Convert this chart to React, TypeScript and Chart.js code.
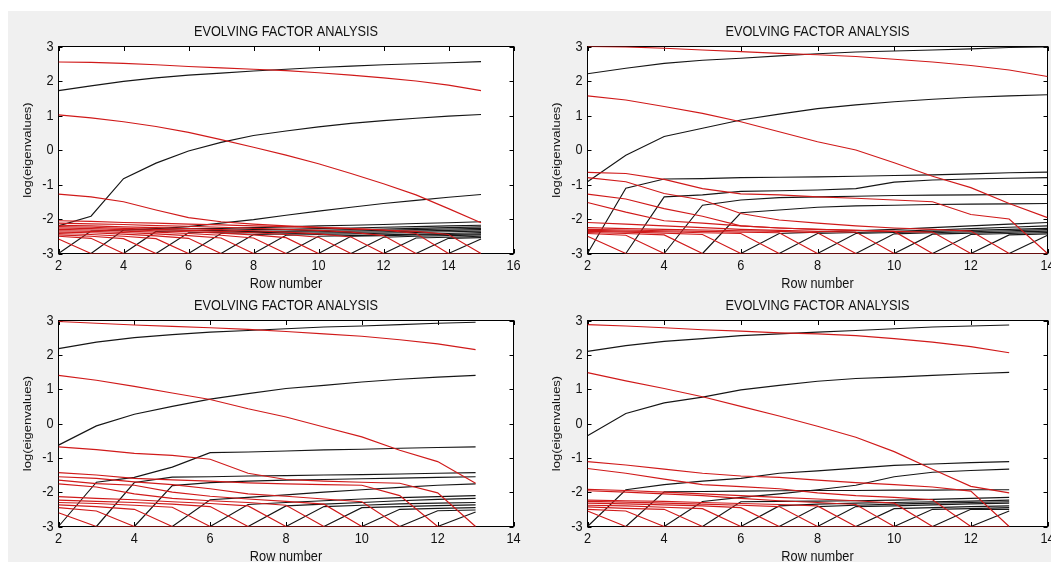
import React, { useEffect, useRef } from "react";
import { Chart, registerables } from "chart.js";

Chart.register(...registerables);

type Series = (number | null)[];

// ---------- text ----------
const TITLE = "EVOLVING FACTOR ANALYSIS";
const X_LABEL = "Row number";
const Y_LABEL = "log(eigenvalues)";

// ---------- tick labels ----------
const yTicks = [-3, -2, -1, 0, 1, 2, 3];
const xTicksWide = [2, 4, 6, 8, 10, 12, 14, 16];
const xTicksNarrow = [2, 4, 6, 8, 10, 12, 14];

// ---------- panel 1 (top-left), rows 2..15 ----------
const rows1 = [2, 3, 4, 5, 6, 7, 8, 9, 10, 11, 12, 13, 14, 15];
const forward1: Series[] = [
  [1.72, 1.86, 1.99, 2.09, 2.17, 2.23, 2.29, 2.34, 2.39, 2.43, 2.47, 2.5, 2.53, 2.56],
  [-2.2, -1.92, -0.83, -0.38, -0.03, 0.22, 0.42, 0.55, 0.67, 0.77, 0.85, 0.92, 0.98, 1.03],
  [-3, -2.35, -2.32, -2.28, -2.22, -2.12, -2.02, -1.89, -1.77, -1.66, -1.55, -1.46, -1.37, -1.29],
  [null, -3, -2.32, -2.3, -2.28, -2.27, -2.25, -2.23, -2.2, -2.18, -2.16, -2.13, -2.11, -2.08],
  [null, null, -3, -2.36, -2.34, -2.33, -2.31, -2.3, -2.28, -2.26, -2.24, -2.22, -2.2, -2.18],
  [null, null, null, -3, -2.4, -2.38, -2.36, -2.35, -2.33, -2.31, -2.29, -2.27, -2.25, -2.23],
  [null, null, null, null, -3, -2.42, -2.4, -2.38, -2.37, -2.35, -2.33, -2.31, -2.29, -2.27],
  [null, null, null, null, null, -3, -2.45, -2.43, -2.41, -2.39, -2.37, -2.35, -2.33, -2.31],
  [null, null, null, null, null, null, -3, -2.47, -2.45, -2.43, -2.41, -2.39, -2.37, -2.35],
  [null, null, null, null, null, null, null, -3, -2.5, -2.48, -2.46, -2.44, -2.42, -2.39],
  [null, null, null, null, null, null, null, null, -3, -2.5, -2.48, -2.46, -2.45, -2.43],
  [null, null, null, null, null, null, null, null, null, -3, -2.53, -2.5, -2.48, -2.46],
  [null, null, null, null, null, null, null, null, null, null, -3, -2.55, -2.53, -2.5],
  [null, null, null, null, null, null, null, null, null, null, null, -3, -2.56, -2.54],
  [null, null, null, null, null, null, null, null, null, null, null, null, -3, -2.58],
];
const backward1: Series[] = [
  [2.55, 2.54, 2.51, 2.47, 2.42, 2.38, 2.34, 2.3, 2.24, 2.17, 2.09, 2.0, 1.88, 1.72],
  [1.02, 0.93, 0.82, 0.68, 0.51, 0.3, 0.08, -0.15, -0.4, -0.68, -0.98, -1.3, -1.7, -2.11],
  [-1.28, -1.36, -1.5, -1.74, -1.96, -2.08, -2.15, -2.2, -2.24, -2.28, -2.32, -2.36, -2.45, -3],
  [-2.05, -2.07, -2.1, -2.12, -2.15, -2.17, -2.2, -2.22, -2.25, -2.28, -2.32, -2.42, -3],
  [-2.12, -2.14, -2.16, -2.19, -2.21, -2.24, -2.27, -2.3, -2.33, -2.38, -2.48, -3],
  [-2.18, -2.2, -2.23, -2.25, -2.28, -2.31, -2.34, -2.38, -2.43, -2.52, -3],
  [-2.22, -2.24, -2.27, -2.3, -2.33, -2.36, -2.4, -2.45, -2.53, -3],
  [-2.26, -2.28, -2.31, -2.34, -2.37, -2.41, -2.46, -2.54, -3],
  [-2.3, -2.32, -2.35, -2.38, -2.42, -2.47, -2.55, -3],
  [-2.34, -2.36, -2.39, -2.43, -2.48, -2.55, -3],
  [-2.38, -2.4, -2.44, -2.49, -2.56, -3],
  [-2.42, -2.45, -2.5, -2.57, -3],
  [-2.46, -2.5, -2.57, -3],
  [-2.5, -2.56, -3],
  [-2.58, -3, -3, -3, -3, -3, -3, -3, -3, -3, -3, -3, -3, -3],
];

// ---------- panel 2 (top-right), rows 2..14 ----------
const rows2 = [2, 3, 4, 5, 6, 7, 8, 9, 10, 11, 12, 13, 14];
const forward2: Series[] = [
  [2.21, 2.37, 2.51, 2.6, 2.66, 2.73, 2.79, 2.84, 2.87, 2.9, 2.93, 2.97, 2.99],
  [-0.92, -0.15, 0.39, 0.63, 0.87, 1.04, 1.2, 1.31, 1.4, 1.47, 1.53, 1.57, 1.6],
  [-3, -1.11, -0.84, -0.83, -0.8, -0.79, -0.78, -0.76, -0.74, -0.72, -0.69, -0.66, -0.64],
  [null, -3, -1.36, -1.3, -1.2, -1.18, -1.16, -1.12, -0.93, -0.87, -0.84, -0.82, -0.8],
  [null, null, -3, -1.6, -1.45, -1.38, -1.36, -1.34, -1.32, -1.31, -1.3, -1.29, -1.29],
  [null, null, null, -3, -1.82, -1.74, -1.66, -1.62, -1.6, -1.58, -1.57, -1.56, -1.55],
  [null, null, null, null, -3, -2.42, -2.38, -2.34, -2.3, -2.25, -2.2, -2.15, -2.1],
  [null, null, null, null, null, -3, -2.42, -2.39, -2.36, -2.32, -2.28, -2.24, -2.2],
  [null, null, null, null, null, null, -3, -2.42, -2.39, -2.36, -2.33, -2.3, -2.27],
  [null, null, null, null, null, null, null, -3, -2.43, -2.4, -2.37, -2.34, -2.31],
  [null, null, null, null, null, null, null, null, -3, -2.44, -2.41, -2.38, -2.35],
  [null, null, null, null, null, null, null, null, null, -3, -2.45, -2.42, -2.39],
  [null, null, null, null, null, null, null, null, null, null, -3, -2.46, -2.43],
  [null, null, null, null, null, null, null, null, null, null, null, -3, -2.47],
];
const backward2: Series[] = [
  [3.0, 2.99, 2.95, 2.9, 2.85, 2.8, 2.76, 2.71, 2.63, 2.55, 2.45, 2.32, 2.13],
  [1.57, 1.45, 1.26, 1.06, 0.82, 0.53, 0.24, 0.0, -0.37, -0.76, -1.09, -1.55, -1.96],
  [-0.65, -0.68, -0.85, -1.12, -1.27, -1.3, -1.36, -1.4, -1.45, -1.5, -1.87, -2.0, -3],
  [-0.8, -0.92, -1.26, -1.45, -1.84, -2.03, -2.12, -2.2, -2.26, -2.3, -2.35, -3],
  [-1.28, -1.42, -1.7, -1.92, -2.2, -2.26, -2.3, -2.33, -2.36, -2.38, -3],
  [-1.52, -1.8, -2.05, -2.12, -2.2, -2.26, -2.3, -2.33, -2.36, -3],
  [-2.1, -2.15, -2.2, -2.25, -2.3, -2.33, -2.36, -2.38, -3],
  [-2.25, -2.28, -2.3, -2.32, -2.34, -2.36, -2.4, -3],
  [-2.3, -2.32, -2.34, -2.36, -2.38, -2.4, -3],
  [-2.33, -2.35, -2.37, -2.4, -2.42, -3],
  [-2.36, -2.38, -2.41, -2.45, -3],
  [-2.39, -2.42, -2.46, -3],
  [-2.42, -2.47, -3],
  [-2.5, -3, -3, -3, -3, -3, -3, -3, -3, -3, -3, -3, -3],
];

// ---------- panel 3 (bottom-left), rows 2..13 ----------
const rows3 = [2, 3, 4, 5, 6, 7, 8, 9, 10, 11, 12, 13];
const forward3: Series[] = [
  [2.18, 2.37, 2.5, 2.59, 2.66, 2.71, 2.76, 2.81, 2.84, 2.88, 2.92, 2.95],
  [-0.63, -0.07, 0.27, 0.5, 0.71, 0.87, 1.02, 1.11, 1.21, 1.29, 1.35, 1.4],
  [-3, -1.71, -1.57, -1.27, -0.85, -0.83, -0.8, -0.77, -0.75, -0.72, -0.7, -0.68],
  [null, -3, -1.72, -1.56, -1.55, -1.53, -1.52, -1.5, -1.49, -1.47, -1.45, -1.43],
  [null, null, -3, -1.81, -1.72, -1.68, -1.65, -1.63, -1.61, -1.59, -1.57, -1.55],
  [null, null, null, -3, -2.22, -2.15, -2.08, -2.0, -1.93, -1.86, -1.8, -1.76],
  [null, null, null, null, -3, -2.36, -2.3, -2.25, -2.2, -2.16, -2.13, -2.1],
  [null, null, null, null, null, -3, -2.4, -2.35, -2.3, -2.25, -2.21, -2.18],
  [null, null, null, null, null, null, -3, -2.42, -2.38, -2.34, -2.32, -2.3],
  [null, null, null, null, null, null, null, -3, -2.45, -2.42, -2.39, -2.37],
  [null, null, null, null, null, null, null, null, -3, -2.5, -2.47, -2.45],
  [null, null, null, null, null, null, null, null, null, -3, -2.54, -2.52],
  [null, null, null, null, null, null, null, null, null, null, -3, -2.58],
];
const backward3: Series[] = [
  [2.97, 2.92, 2.87, 2.83, 2.79, 2.74, 2.68, 2.61, 2.54, 2.44, 2.32, 2.15],
  [1.4, 1.26, 1.08, 0.89, 0.7, 0.43, 0.19, -0.1, -0.39, -0.78, -1.11, -1.74],
  [-0.68, -0.76, -0.87, -0.93, -1.04, -1.45, -1.63, -1.68, -1.71, -1.74, -2.02, -3],
  [-1.43, -1.5, -1.6, -1.64, -1.68, -1.73, -1.76, -1.78, -1.8, -2.1, -3],
  [-1.55, -1.6, -1.7, -1.78, -1.9, -2.05, -2.12, -2.2, -2.28, -3],
  [-1.65, -1.75, -1.8, -2.0, -2.12, -2.2, -2.27, -2.35, -3],
  [-1.76, -1.85, -2.05, -2.18, -2.25, -2.3, -2.38, -3],
  [-2.13, -2.18, -2.22, -2.28, -2.33, -2.4, -3],
  [-2.23, -2.27, -2.3, -2.35, -2.42, -3],
  [-2.3, -2.33, -2.38, -2.44, -3],
  [-2.37, -2.42, -2.5, -3],
  [-2.45, -2.55, -3],
  [-2.6, -3, -3, -3, -3, -3, -3, -3, -3, -3, -3, -3],
];

// ---------- panel 4 (bottom-right), rows 2..13 ----------
const rows4 = [2, 3, 4, 5, 6, 7, 8, 9, 10, 11, 12, 13];
const forward4: Series[] = [
  [2.1, 2.27, 2.39, 2.47, 2.56, 2.61, 2.66, 2.71, 2.76, 2.81, 2.84, 2.87],
  [-0.36, 0.29, 0.6, 0.77, 0.98, 1.11, 1.23, 1.31, 1.35, 1.4, 1.45, 1.49],
  [-3, -1.93, -1.78, -1.68, -1.6, -1.45, -1.38, -1.3, -1.22, -1.18, -1.14, -1.11],
  [null, -3, -1.99, -1.98, -1.97, -1.96, -1.95, -1.95, -1.94, -1.94, -1.93, -1.93],
  [null, null, -3, -2.27, -2.15, -2.05, -1.93, -1.8, -1.55, -1.42, -1.37, -1.33],
  [null, null, null, -3, -2.28, -2.27, -2.26, -2.25, -2.23, -2.21, -2.18, -2.15],
  [null, null, null, null, -3, -2.4, -2.35, -2.32, -2.3, -2.28, -2.26, -2.23],
  [null, null, null, null, null, -3, -2.42, -2.38, -2.35, -2.32, -2.3, -2.28],
  [null, null, null, null, null, null, -3, -2.42, -2.4, -2.37, -2.34, -2.32],
  [null, null, null, null, null, null, null, -3, -2.48, -2.45, -2.42, -2.4],
  [null, null, null, null, null, null, null, null, -3, -2.5, -2.48, -2.45],
  [null, null, null, null, null, null, null, null, null, -3, -2.5, -2.5],
  [null, null, null, null, null, null, null, null, null, null, -3, -2.55],
];
const backward4: Series[] = [
  [2.88, 2.84, 2.79, 2.73, 2.69, 2.64, 2.61, 2.56, 2.47, 2.37, 2.24, 2.06],
  [1.48, 1.24, 1.02, 0.78, 0.5, 0.22, -0.08, -0.4, -0.82, -1.33, -1.83, -2.02],
  [-1.11, -1.21, -1.33, -1.45, -1.53, -1.57, -1.65, -1.72, -1.78, -1.85, -1.97, -3],
  [-1.31, -1.45, -1.62, -1.78, -1.84, -1.9, -2.02, -2.1, -2.15, -2.22, -3],
  [-1.92, -1.95, -2.0, -2.05, -2.1, -2.15, -2.2, -2.25, -2.32, -3],
  [-1.96, -2.0, -2.05, -2.1, -2.18, -2.25, -2.3, -2.36, -3],
  [-2.23, -2.25, -2.27, -2.3, -2.33, -2.36, -2.4, -3],
  [-2.27, -2.29, -2.32, -2.35, -2.38, -2.42, -3],
  [-2.32, -2.34, -2.37, -2.4, -2.45, -3],
  [-2.38, -2.4, -2.44, -2.48, -3],
  [-2.43, -2.47, -2.5, -3],
  [-2.5, -2.55, -3],
  [-2.55, -3, -3, -3, -3, -3, -3, -3, -3, -3, -3, -3],
];

// ---------- styling ----------
const RED = "rgb(208,26,26)";
const BLACK = "#161616";
const FONT = '"Liberation Sans", Arial, Helvetica, sans-serif';
const TEXT_COLOR = "#111111";
const SQUEEZE = 0.85;
const LINE_WIDTH = 1.15;

interface PanelSpec {
  rows: number[];
  xMax: number;
  xTicks: number[];
  forward: Series[];
  backward: Series[];
  box: { left: number; top: number; width: number; height: number };
  pad: { left: number; top: number; right: number; bottom: number };
  titleOffset: number;
}

const panels: PanelSpec[] = [
  {
    rows: rows1, xMax: 16, xTicks: xTicksWide, forward: forward1, backward: backward1,
    box: { left: 0, top: 0, width: 530, height: 290 },
    pad: { left: 58.5, top: 46.5, right: 16.5, bottom: 36.5 },
    titleOffset: 10.5,
  },
  {
    rows: rows2, xMax: 14, xTicks: xTicksNarrow, forward: forward2, backward: backward2,
    box: { left: 530, top: 0, width: 530, height: 290 },
    pad: { left: 57.5, top: 46.5, right: 12.5, bottom: 36.5 },
    titleOffset: 10.5,
  },
  {
    rows: rows3, xMax: 14, xTicks: xTicksNarrow, forward: forward3, backward: backward3,
    box: { left: 0, top: 290, width: 530, height: 272 },
    pad: { left: 58.5, top: 30.5, right: 16.5, bottom: 35.5 },
    titleOffset: 11,
  },
  {
    rows: rows4, xMax: 14, xTicks: xTicksNarrow, forward: forward4, backward: backward4,
    box: { left: 530, top: 290, width: 530, height: 272 },
    pad: { left: 57.5, top: 30.5, right: 12.5, bottom: 35.5 },
    titleOffset: 11,
  },
];

function drawText(
  ctx: CanvasRenderingContext2D, str: string, x: number, y: number, size: number,
  align: CanvasTextAlign, baseline: CanvasTextBaseline, rotate = false
) {
  ctx.save();
  ctx.font = `${size}px ${FONT}`;
  ctx.fillStyle = TEXT_COLOR;
  ctx.textAlign = align;
  ctx.textBaseline = baseline;
  ctx.translate(x, y);
  ctx.scale(SQUEEZE, 1);
  if (rotate) ctx.rotate(-Math.PI / 2);
  ctx.fillText(str, 0, 0);
  ctx.restore();
}

function makeAxesPlugin(spec: PanelSpec) {
  return {
    id: "matlabAxes",
    beforeDraw(chart: any) {
      const { ctx, chartArea: a } = chart;
      ctx.save();
      ctx.fillStyle = "#ffffff";
      ctx.fillRect(a.left, a.top, a.right - a.left, a.bottom - a.top);
      ctx.restore();
    },
    beforeDatasetsDraw(chart: any) {
      const { ctx, chartArea: a } = chart;
      const xs = chart.scales.x;
      const ys = chart.scales.y;
      ctx.save();
      ctx.strokeStyle = "#000";
      ctx.lineWidth = 1;
      ctx.strokeRect(a.left, a.top, a.right - a.left, a.bottom - a.top);
      ctx.beginPath();
      for (const v of spec.xTicks) {
        const px = Math.round(xs.getPixelForValue(v)) + 0.5;
        ctx.moveTo(px, a.bottom);
        ctx.lineTo(px, a.bottom - 4.5);
        ctx.moveTo(px, a.top);
        ctx.lineTo(px, a.top + 4.5);
      }
      for (const v of yTicks) {
        const py = Math.round(ys.getPixelForValue(v)) + 0.5;
        ctx.moveTo(a.left, py);
        ctx.lineTo(a.left + 4, py);
        ctx.moveTo(a.right, py);
        ctx.lineTo(a.right - 4, py);
      }
      ctx.stroke();
      ctx.restore();
    },
    afterDraw(chart: any) {
      const { ctx, chartArea: a } = chart;
      const xs = chart.scales.x;
      const ys = chart.scales.y;
      const cx = (a.left + a.right) / 2;
      const cy = (a.top + a.bottom) / 2;
      drawText(ctx, TITLE, cx, a.top - spec.titleOffset, 15, "center", "alphabetic");
      for (const v of spec.xTicks) {
        drawText(ctx, String(v), xs.getPixelForValue(v), a.bottom + 16, 15, "center", "alphabetic");
      }
      for (const v of yTicks) {
        drawText(ctx, String(v), a.left - 5, ys.getPixelForValue(v), 15, "right", "middle");
      }
      drawText(ctx, X_LABEL, cx, a.bottom + 34, 15, "center", "alphabetic");
      drawText(ctx, Y_LABEL, a.left - 31, cy, 13, "center", "middle", true);
    },
  };
}

function toPoints(rows: number[], s: Series) {
  return rows.map((x, i) => ({ x, y: s[i] ?? null }));
}

function Panel({ spec }: { spec: PanelSpec }) {
  const ref = useRef<HTMLCanvasElement | null>(null);
  useEffect(() => {
    if (!ref.current) return;
    const lineStyle = (color: string) => ({
      borderColor: color,
      borderWidth: LINE_WIDTH,
      pointRadius: 0,
      tension: 0,
      fill: false,
      spanGaps: false,
    });
    const datasets = [
      ...spec.backward.map((s) => ({ data: toPoints(spec.rows, s), ...lineStyle(RED) })),
      ...spec.forward.map((s) => ({ data: toPoints(spec.rows, s), ...lineStyle(BLACK) })),
    ];
    const chart = new Chart(ref.current, {
      type: "line",
      data: { datasets } as any,
      options: {
        responsive: false,
        animation: false,
        events: [],
        layout: { padding: spec.pad },
        plugins: {
          legend: { display: false },
          tooltip: { enabled: false },
          title: { display: false },
        },
        scales: {
          x: { type: "linear", min: 2, max: spec.xMax, display: false },
          y: { type: "linear", min: -3, max: 3, display: false },
        },
      } as any,
      plugins: [makeAxesPlugin(spec)],
    });
    return () => chart.destroy();
  }, [spec]);
  return (
    <canvas
      ref={ref}
      width={spec.box.width}
      height={spec.box.height}
      style={{
        position: "absolute",
        left: spec.box.left,
        top: spec.box.top,
        width: spec.box.width,
        height: spec.box.height,
      }}
    />
  );
}

export default function App() {
  return (
    <div
      style={{
        position: "fixed",
        left: 0,
        top: 0,
        width: 1051,
        height: 562,
        overflow: "hidden",
        background: "#ffffff",
      }}
    >
      <div style={{ position: "absolute", left: 8, top: 11, right: 0, bottom: 0, background: "#f0f0f0" }} />
      {panels.map((p, i) => (
        <Panel key={i} spec={p} />
      ))}
    </div>
  );
}
